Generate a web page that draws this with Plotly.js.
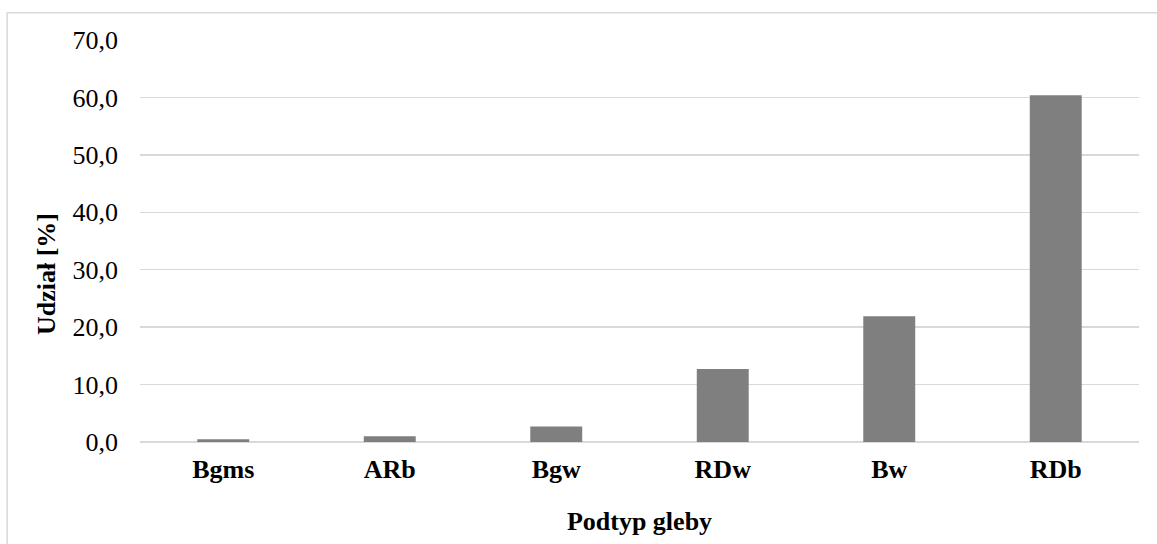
<!DOCTYPE html>
<html>
<head>
<meta charset="utf-8">
<script src="https://cdn.plot.ly/plotly-3.0.1.min.js"></script>
<style>
  html, body { margin: 0; padding: 0; background: #ffffff; }
  #chart { width: 1157px; height: 544px; }
</style>
</head>
<body>
<div id="chart"></div>
<script>
// Soil subtypes and their share in the area [%]
const categories = ['Bgms', 'ARb', 'Bgw', 'RDw', 'Bw', 'RDb'];
const shares = [0.5, 1.0, 2.7, 12.7, 21.9, 60.4];
const yTickValues = [0, 10, 20, 30, 40, 50, 60, 70];
const yTickLabels = ['0,0', '10,0', '20,0', '30,0', '40,0', '50,0', '60,0', '70,0'];

const serif = '"Liberation Serif", "Times New Roman", Times, serif';

const trace = {
  type: 'bar',
  x: categories,
  y: shares,
  marker: { color: '#7f7f7f', line: { width: 0 } },
  hoverinfo: 'x+y'
};

const layout = {
  width: 1157,
  height: 544,
  margin: { l: 140, r: 18, t: 40, b: 102 },
  paper_bgcolor: '#ffffff',
  plot_bgcolor: '#ffffff',
  showlegend: false,
  bargap: 0.688,
  xaxis: {
    type: 'category',
    showgrid: false,
    zeroline: false,
    showline: false,
    ticks: '',
    tickfont: { family: serif, size: 26, color: '#000000', weight: 'bold' },
    ticklabelstandoff: 9,
    title: {
      text: '<b>Podtyp gleby</b>',
      font: { family: serif, size: 26, color: '#000000' },
      standoff: 28
    }
  },
  yaxis: {
    range: [0, 70],
    tickvals: yTickValues,
    ticktext: yTickLabels,
    showgrid: true,
    gridcolor: '#d9d9d9',
    gridwidth: 1.5,
    zeroline: true,
    zerolinecolor: '#d9d9d9',
    zerolinewidth: 1.5,
    showline: false,
    ticks: '',
    ticklabelstandoff: 21,
    tickfont: { family: serif, size: 26, color: '#000000' },
    fixedrange: true
  },
  annotations: [{
    text: '<b>Udział [%]</b>',
    xref: 'paper', yref: 'paper',
    x: -0.093, y: 0.418,
    xanchor: 'center', yanchor: 'middle',
    textangle: -90,
    showarrow: false,
    font: { family: serif, size: 26, color: '#000000' }
  }],
  shapes: [{
    type: 'rect',
    xref: 'paper', yref: 'paper',
    x0: -0.133, x1: 1.05,
    y0: -0.3, y1: 1.068,
    line: { color: '#d9d9d9', width: 1.5 },
    fillcolor: 'rgba(0,0,0,0)',
    layer: 'below'
  }]
};

Plotly.newPlot('chart', [trace], layout, { displayModeBar: false, staticPlot: true });
</script>
</body>
</html>
